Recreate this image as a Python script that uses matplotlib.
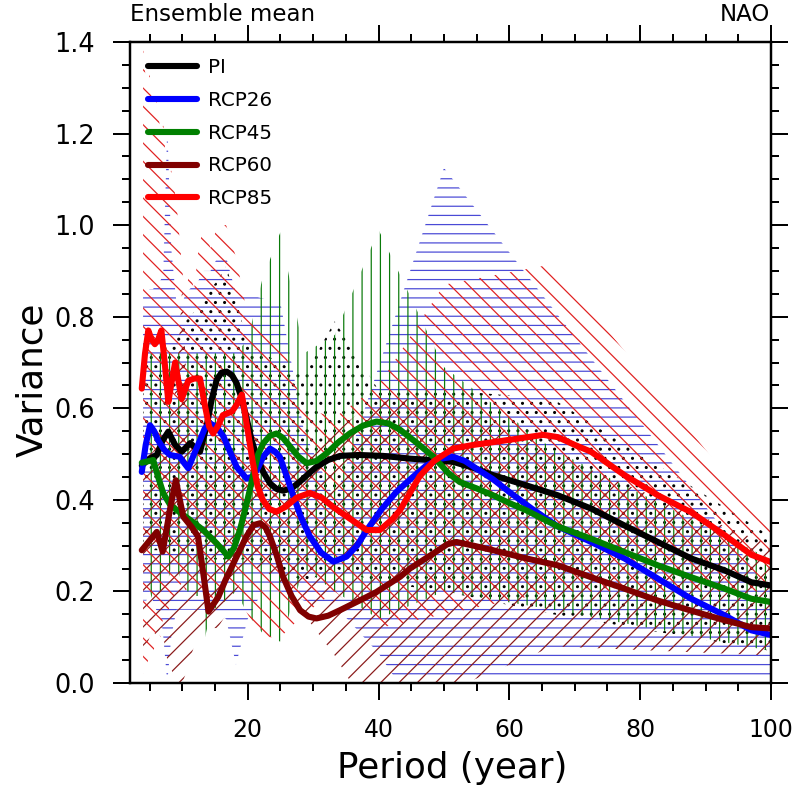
import matplotlib
matplotlib.use("Agg")
import matplotlib.pyplot as plt
import numpy as np

plt.rcParams['font.family'] = ['DejaVu Sans']
plt.rcParams['hatch.linewidth'] = 0.8

# ensemble mean lines (period in years, variance)
pi_x = [3.8, 5, 6.1, 7.0, 7.86, 8.9, 9.9, 11.2, 12.7, 13.7, 14.5, 15.25, 16.0, 16.8, 17.6, 18.3, 19.1, 19.8,
        20.6, 21.4, 22.4, 23.4, 24.4, 25.4, 26.7, 28, 29.3, 30.5, 32.3, 34.1, 37, 40.7, 44.8, 48, 51.4, 54.5,
        57.5, 62.5, 67.4, 72.5, 77.6, 82.7, 87.8, 92.9, 97, 100]
pi_y = [0.475, 0.49, 0.498, 0.53, 0.549, 0.52, 0.505, 0.524, 0.505, 0.56, 0.62, 0.662, 0.678, 0.68, 0.672, 0.655,
        0.62, 0.58, 0.53, 0.494, 0.46, 0.436, 0.424, 0.42, 0.425, 0.44, 0.457, 0.472, 0.487, 0.496, 0.498, 0.496,
        0.49, 0.487, 0.483, 0.47, 0.454, 0.432, 0.41, 0.381, 0.344, 0.308, 0.272, 0.246, 0.22, 0.213]

rcp26_x = [3.8, 4.4, 5.06, 5.7, 6.3, 7.2, 8.1, 9.6, 10.3, 10.9, 11.8, 12.7, 13.4, 14.2, 15.2, 16.3, 17.3, 18.3,
           19.8, 20.6, 21.4, 22.4, 23.4, 24.2, 24.9, 26, 27, 28.2, 29.5, 31.2, 33.1, 35.1, 36.7, 38.2, 40.5, 42.7,
           45, 47.3, 49.5, 51.4, 53.2, 55, 57.5, 60, 63.5, 67.4, 72.5, 77.6, 82.7, 87.8, 92.9, 97, 100]
rcp26_y = [0.461, 0.52, 0.563, 0.55, 0.53, 0.51, 0.498, 0.494, 0.48, 0.469, 0.5, 0.53, 0.555, 0.567, 0.56, 0.538,
           0.505, 0.472, 0.447, 0.45, 0.465, 0.495, 0.512, 0.505, 0.494, 0.45, 0.407, 0.36, 0.32, 0.285, 0.265,
           0.276, 0.3, 0.334, 0.38, 0.417, 0.447, 0.475, 0.49, 0.494, 0.485, 0.468, 0.445, 0.417, 0.38, 0.342,
           0.308, 0.272, 0.228, 0.184, 0.148, 0.115, 0.105]

rcp45_x = [3.8, 5.55, 6.3, 7.1, 8.1, 9.1, 11.2, 13.2, 15.25, 16.2, 17, 17.9, 18.8, 19.8, 20.9, 21.6, 22.4, 23.4,
           24.4, 25.4, 26.5, 27.7, 29, 30.5, 32.1, 33.8, 35.6, 37.6, 39.7, 41.5, 43.3, 45.8, 48.4, 50.7, 52.4, 55,
           57.5, 60, 62.6, 67.4, 72.5, 77.6, 82.7, 87.8, 92.9, 97, 100]
rcp45_y = [0.481, 0.487, 0.45, 0.414, 0.39, 0.378, 0.356, 0.334, 0.305, 0.29, 0.276, 0.295, 0.334, 0.39, 0.458,
           0.5, 0.524, 0.54, 0.545, 0.535, 0.516, 0.495, 0.48, 0.485, 0.502, 0.525, 0.545, 0.562, 0.571, 0.567,
           0.553, 0.525, 0.494, 0.458, 0.439, 0.425, 0.41, 0.393, 0.377, 0.342, 0.315, 0.286, 0.257, 0.231, 0.206,
           0.184, 0.177]

rcp60_x = [3.8, 5.06, 6.1, 7.0, 8.1, 9.0, 10.15, 11.4, 12.4, 13.2, 14, 15.5, 16.6, 17.8, 19.8, 20.9, 21.9, 22.7,
           23.4, 24.4, 25.4, 26.7, 28, 29.3, 30.5, 32.3, 34.1, 38.2, 39.7, 43.3, 44.8, 48.4, 50.5, 51.9, 54.5, 57.5,
           62.6, 67.4, 72.5, 77.6, 82.7, 87.8, 92.9, 97, 100]
rcp60_y = [0.29, 0.312, 0.33, 0.287, 0.378, 0.443, 0.363, 0.341, 0.32, 0.24, 0.156, 0.188, 0.225, 0.261, 0.32,
           0.345, 0.349, 0.34, 0.32, 0.28, 0.232, 0.19, 0.159, 0.145, 0.141, 0.147, 0.159, 0.188, 0.199, 0.232,
           0.25, 0.283, 0.303, 0.308, 0.3, 0.29, 0.272, 0.257, 0.231, 0.206, 0.18, 0.158, 0.137, 0.122, 0.119]

rcp85_x = [3.8, 4.3, 4.8, 5.3, 5.8, 6.3, 6.8, 7.3, 7.86, 8.4, 8.9, 9.4, 9.9, 10.4, 10.9, 11.8, 12.7, 13.4, 14.1,
           14.7, 15.4, 16.2, 17.6, 18.4, 19.1, 19.9, 20.8, 21.5, 22.3, 23.3, 24.4, 25.8, 27.5, 29.5, 31.3, 33, 35.5,
           38.2, 40.2, 42.2, 43.3, 44.8, 46.3, 48.5, 51.4, 54.5, 57.5, 61.4, 65.2, 67.4, 70, 72.5, 77.6, 82.7, 87.8,
           92.9, 97, 100]
rcp85_y = [0.643, 0.72, 0.77, 0.75, 0.74, 0.75, 0.77, 0.7, 0.614, 0.66, 0.70, 0.66, 0.62, 0.64, 0.66, 0.665, 0.665,
           0.61, 0.56, 0.545, 0.56, 0.585, 0.593, 0.61, 0.63, 0.56, 0.48, 0.43, 0.40, 0.38, 0.374, 0.385, 0.405,
           0.415, 0.405, 0.385, 0.36, 0.334, 0.334, 0.359, 0.378, 0.415, 0.452, 0.485, 0.512, 0.52, 0.526, 0.534,
           0.542, 0.537, 0.52, 0.505, 0.454, 0.41, 0.373, 0.323, 0.28, 0.264]

# spread bands (hatched), on the periods of the spectra
band_x = [4, 4.5, 5, 5.5, 6, 6.7, 7.1, 7.7, 8.3, 9.1, 10, 10.5, 11.1, 11.8, 12.5, 13.3, 14.3, 15.4, 16.7, 18.2,
          20, 22.2, 25, 28.6, 33.3, 40, 50, 66.7, 100]
pi_lo = [0.30, 0.30, 0.30, 0.29, 0.29, 0.29, 0.28, 0.28, 0.28, 0.28, 0.28, 0.28, 0.28, 0.28, 0.28, 0.27, 0.27,
         0.27, 0.27, 0.27, 0.27, 0.26, 0.25, 0.22, 0.25, 0.22, 0.20, 0.15, 0.07]
pi_hi = [0.72, 0.72, 0.72, 0.72, 0.72, 0.72, 0.73, 0.74, 0.74, 0.76, 0.78, 0.79, 0.80, 0.81, 0.82, 0.84, 0.86,
         0.88, 0.91, 0.84, 0.74, 0.72, 0.70, 0.67, 0.79, 0.64, 0.64, 0.62, 0.32]
rcp26_lo = [0.18, 0.18, 0.20, 0.18, 0.16, 0.15, 0.10, 0.0, 0.10, 0.16, 0.16, 0.16, 0.16, 0.16, 0.16, 0.16, 0.15,
            0.15, 0.14, 0.04, 0.14, 0.20, 0.20, 0.18, 0.17, 0.065, -0.15, -0.1, -0.05]
rcp26_hi = [0.85, 0.85, 0.86, 0.86, 0.87, 0.88, 0.90, 1.22, 0.95, 0.83, 0.83, 0.85, 0.86, 0.87, 0.88, 0.90, 0.90,
            0.93, 0.93, 0.85, 0.85, 0.84, 0.83, 0.55, 0.40, 0.69, 1.125, 0.817, 0.20]
rcp45_lo = [0.0, 0.02, 0.20, 0.18, 0.20, 0.20, 0.20, 0.22, 0.25, 0.25, 0.22, 0.20, 0.20, 0.19, 0.19, 0.09, 0.15,
            0.17, 0.18, 0.20, 0.15, 0.11, 0.09, 0.25, 0.20, 0.14, 0.20, 0.16, 0.07]
rcp45_hi = [0.97, 0.80, 0.72, 0.72, 0.72, 0.72, 0.72, 0.72, 0.72, 0.72, 0.72, 0.72, 0.72, 0.72, 0.72, 0.72, 0.72,
            0.72, 0.72, 0.72, 0.75, 0.88, 0.985, 0.72, 0.76, 0.99, 0.69, 0.51, 0.27]
rcp60_lo = [0.05, 0.08, 0.10, 0.12, 0.10, 0.12, 0.10, 0.05, 0.03, 0.0, 0.0, 0.02, 0.05, 0.08, 0.10, 0.10, 0.12,
            0.12, 0.15, 0.20, 0.25, 0.25, 0.22, 0.15, 0.06, -0.1, -0.02, 0.08, 0.06]
rcp60_hi = [0.50, 0.50, 0.55, 0.50, 0.55, 0.50, 0.55, 0.50, 0.60, 0.65, 0.87, 0.70, 0.55, 0.50, 0.48, 0.45, 0.45,
            0.50, 0.50, 0.50, 0.48, 0.45, 0.45, 0.48, 0.55, 0.62, 0.62, 0.50, 0.30]
rcp85_lo = [0.02, 0.02, 0.08, 0.05, 0.12, 0.10, 0.15, 0.15, 0.18, 0.20, 0.22, 0.20, 0.22, 0.22, 0.20, 0.20, 0.18,
            0.20, 0.22, 0.20, 0.15, 0.10, 0.10, 0.15, 0.20, 0.12, 0.15, 0.20, 0.20]
rcp85_hi = [1.39, 1.30, 1.33, 1.25, 1.28, 1.20, 1.22, 1.10, 1.12, 1.05, 0.90, 0.85, 0.90, 0.86, 0.95, 1.00, 0.95,
            1.00, 1.00, 0.93, 0.80, 0.77, 0.75, 0.60, 0.58, 0.65, 0.87, 0.915, 0.335]

names = ["PI", "RCP26", "RCP45", "RCP60", "RCP85"]
colors = ["black", "#0000ff", "#008000", "#800000", "#ff0000"]
hatch_colors = ["black", "#4a4ad6", "#0a7a0a", "#8a1a1a", "#e02020"]
hatches = ["..", "--", "||", "//", "\\\\"]

DPI = 110
fig = plt.figure(figsize=(793 / DPI, 800 / DPI), dpi=DPI)
ax = fig.add_axes([130 / 793, 1 - 683 / 800, 641 / 793, 641 / 800])

bands = [(pi_lo, pi_hi), (rcp26_lo, rcp26_hi), (rcp45_lo, rcp45_hi), (rcp60_lo, rcp60_hi), (rcp85_lo, rcp85_hi)]
for (lo, hi), c, h in zip(bands, hatch_colors, hatches):
    with plt.rc_context({'hatch.color': c}):
        ax.fill_between(band_x, lo, hi, facecolor='none', edgecolor=c, hatch=h, linewidth=0)

lines = [(pi_x, pi_y), (rcp26_x, rcp26_y), (rcp45_x, rcp45_y), (rcp60_x, rcp60_y), (rcp85_x, rcp85_y)]
for (x, y), c, n in zip(lines, colors, names):
    ax.plot(x, y, color=c, lw=4, solid_capstyle='round', solid_joinstyle='round', label=n)

ax.set_xlim(2, 100)
ax.set_ylim(0, 1.4)
ax.set_xticks([20, 40, 60, 80, 100])
ax.set_xticks(np.arange(5, 101, 5), minor=True)
ax.set_yticks(np.arange(0, 1.41, 0.2))
ax.set_yticklabels([f"{v:.1f}" for v in np.arange(0, 1.41, 0.2)])
ax.set_yticks(np.arange(0, 1.41, 0.05), minor=True)
ax.tick_params(which='both', direction='out', top=True, right=True, width=1.3, pad=12)
ax.tick_params(axis='y', labelsize=16.7)
ax.tick_params(axis='x', labelsize=15.5)
ax.tick_params(which='major', length=11)
ax.tick_params(which='minor', length=5.5)
for s in ax.spines.values():
    s.set_linewidth(1.6)

ax.legend(loc='upper left', bbox_to_anchor=(0.028, 0.9745), frameon=False, fontsize=13,
          handlelength=2.45, handletextpad=0.55, labelspacing=0.69, borderpad=0, borderaxespad=0)

fig.text(130 / 793, 1 - 21 / 800, "Ensemble mean", fontsize=15, ha='left', va='baseline')
fig.text(770 / 793, 1 - 21 / 800, "NAO", fontsize=15, ha='right', va='baseline')
fig.text(32 / 793, 1 - 380 / 800, "Variance", fontsize=23.3, rotation=90, ha='center', va='center')
fig.text(452 / 793, 1 - 768 / 800, "Period (year)", fontsize=23.3, ha='center', va='center')

fig.savefig("out.png", dpi=DPI)
